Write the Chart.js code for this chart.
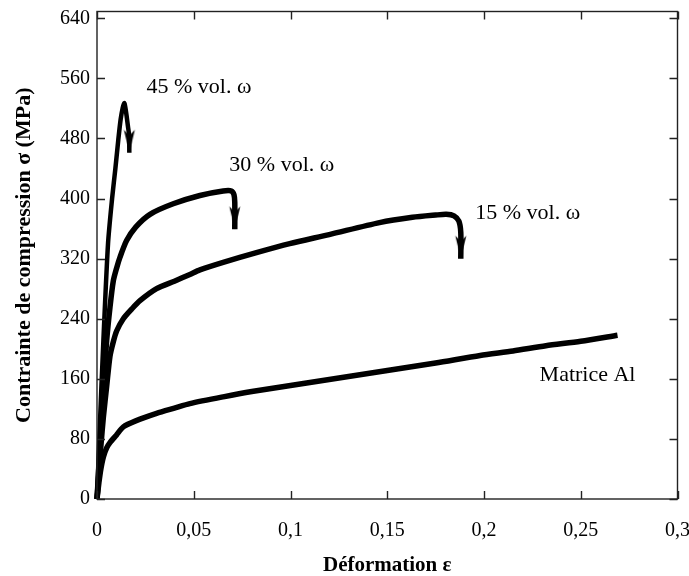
<!DOCTYPE html>
<html>
<head>
<meta charset="utf-8">
<script src="https://cdn.jsdelivr.net/npm/chart.js@4.4.0/dist/chart.umd.min.js"></script>
<style>
  html, body { margin: 0; padding: 0; background: #fff; }
</style>
</head>
<body>
<canvas id="chart" width="689" height="576"></canvas>
<script>
// courbes contrainte-déformation
const strainAl = [0, 0.001, 0.002, 0.0033, 0.005, 0.0067, 0.01, 0.0136, 0.02, 0.0308, 0.04, 0.048, 0.0652, 0.08, 0.1, 0.125, 0.15, 0.175, 0.198, 0.215, 0.232, 0.25, 0.269];
const stressAl = [0, 22, 40, 56, 68, 75, 85, 96, 104, 114, 121, 127, 136, 143, 151, 161, 171, 181, 191, 197, 204, 210, 218];

const strain15 = [0, 0.001, 0.002, 0.0033, 0.005, 0.0067, 0.0085, 0.0102, 0.0136, 0.018, 0.0222, 0.0308, 0.04, 0.048, 0.0532, 0.0652, 0.0824, 0.0996, 0.12, 0.146, 0.163, 0.175, 0.1805, 0.1845, 0.187, 0.188, 0.188];
const stress15 = [0, 35, 70, 109, 150, 190, 210, 224, 240, 253, 264, 280, 290, 299, 305, 315, 328, 340, 352, 368, 375, 378, 379, 377, 370, 355, 320];

const strain30 = [0, 0.001, 0.002, 0.0033, 0.005, 0.0067, 0.0084, 0.0102, 0.0119, 0.0153, 0.02, 0.0274, 0.0394, 0.0532, 0.0652, 0.0695, 0.0708, 0.0712, 0.0712];
const stress30 = [0, 45, 95, 150, 211, 255, 290, 308, 322, 344, 362, 379, 393, 404, 410, 410, 405, 395, 359];

const strain45 = [0, 0.0015, 0.0033, 0.0057, 0.0078, 0.0095, 0.011, 0.0122, 0.0133, 0.0141, 0.0146, 0.0153, 0.016, 0.0166, 0.0167];
const stress45 = [0, 100, 211, 340, 400, 440, 478, 505, 521, 527, 522, 510, 496, 484, 461];

// graduations
const stressTicks = [0, 80, 160, 240, 320, 400, 480, 560, 640];

// étiquettes des courbes
const labelText = ["45 % vol. \u03c9", "30 % vol. \u03c9", "15 % vol. \u03c9", "Matrice Al"];
const labelStrain = [0.0527, 0.0955, 0.2226, 0.2535];
const labelStress = [548, 444, 381, 165];

const serif = "'Liberation Serif', 'Times New Roman', serif";

function toPoints(xs, ys) {
  return xs.map((x, i) => ({ x: x, y: ys[i] }));
}

// pointe de flèche dessinée une fois, utilisée comme pointStyle
const arrowImg = document.createElement("canvas");
arrowImg.width = 14;
arrowImg.height = 48;
(function () {
  const c = arrowImg.getContext("2d");
  c.fillStyle = "#000";
  c.beginPath();
  c.moveTo(7, 24);
  c.lineTo(1.5, 1);
  c.lineTo(7, 7);
  c.lineTo(12.5, 1);
  c.closePath();
  c.fill();
})();

function curve(xs, ys, width, arrow) {
  const last = xs.length - 1;
  return {
    data: toPoints(xs, ys),
    borderColor: "#000",
    borderWidth: width,
    borderJoinStyle: "round",
    tension: 0.25,
    clip: false,
    pointRadius: ctx => (arrow && ctx.dataIndex === last ? 6 : 0),
    pointStyle: ctx => (arrow && ctx.dataIndex === last ? arrowImg : "circle"),
    pointHoverRadius: 0
  };
}

const framePlugin = {
  id: "frame",
  afterDraw(chart) {
    const { ctx, chartArea: { left, right, top, bottom }, scales: { x, y } } = chart;
    ctx.save();
    ctx.strokeStyle = "#222";
    ctx.lineWidth = 1.4;
    ctx.strokeRect(left, top, right - left, bottom - top);
    ctx.beginPath();
    x.ticks.forEach(t => {
      const px = Math.round(x.getPixelForValue(t.value)) + 0.5;
      ctx.moveTo(px, bottom); ctx.lineTo(px, bottom - 8);
      ctx.moveTo(px, top); ctx.lineTo(px, top + 8);
    });
    y.ticks.forEach(t => {
      const py = Math.round(y.getPixelForValue(t.value)) + 0.5;
      ctx.moveTo(left, py); ctx.lineTo(left + 8, py);
      ctx.moveTo(right, py); ctx.lineTo(right - 8, py);
    });
    ctx.stroke();

    ctx.fillStyle = "#000";
    ctx.font = "22px " + serif;
    ctx.textAlign = "center";
    ctx.textBaseline = "middle";
    labelText.forEach((txt, i) => {
      ctx.fillText(txt, x.getPixelForValue(labelStrain[i]), y.getPixelForValue(labelStress[i]));
    });
    ctx.restore();
  }
};

new Chart(document.getElementById("chart"), {
  type: "line",
  data: {
    datasets: [
      curve(strainAl, stressAl, 5.5, false),
      curve(strain15, stress15, 5.5, true),
      curve(strain30, stress30, 5.5, true),
      curve(strain45, stress45, 4.5, true)
    ]
  },
  options: {
    responsive: false,
    animation: false,
    devicePixelRatio: 1,
    layout: { padding: { left: 0, right: 11, top: 10, bottom: 0 } },
    plugins: { legend: { display: false }, tooltip: { enabled: false } },
    scales: {
      x: {
        type: "linear",
        min: 0,
        max: 0.3,
        grid: { display: false, drawTicks: false },
        border: { display: false },
        ticks: {
          stepSize: 0.05,
          padding: 20,
          color: "#000",
          font: { family: serif, size: 20 },
          maxRotation: 0,
          callback: v => String(Math.round(v * 100) / 100).replace(".", ",")
        },
        title: {
          display: true,
          text: "Déformation \u03b5",
          color: "#000",
          font: { family: serif, size: 21, weight: "bold", lineHeight: 1 },
          padding: { top: 0, bottom: 0 }
        },
        afterFit: s => {
          s.height = 77;
          s.paddingLeft = 0;
          s.paddingRight = 0;
        }
      },
      y: {
        min: 0,
        max: 649,
        grid: { display: false, drawTicks: false },
        border: { display: false },
        afterBuildTicks: s => { s.ticks = stressTicks.map(v => ({ value: v })); },
        ticks: {
          padding: 7,
          color: "#000",
          font: { family: serif, size: 20 }
        },
        title: {
          display: true,
          text: "Contrainte de compression \u03c3 (MPa)",
          color: "#000",
          font: { family: serif, size: 22, weight: "bold" },
          padding: { top: 11, bottom: 0 }
        },
        afterFit: s => {
          s.width = 97;
          s.paddingTop = 0;
          s.paddingBottom = 0;
        }
      }
    }
  },
  plugins: [framePlugin]
});
</script>
</body>
</html>
